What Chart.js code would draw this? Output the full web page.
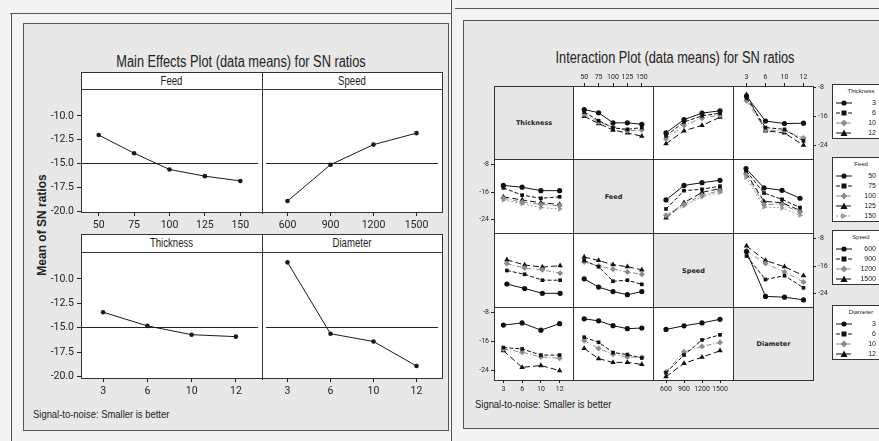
<!DOCTYPE html>
<html>
<head>
<meta charset="utf-8">
<script src="https://cdn.jsdelivr.net/npm/chart.js@4.4.1/dist/chart.umd.min.js"></script>
<style>
  body { margin: 0; background: #f3f3f3; }
  #page { position: relative; width: 879px; height: 441px; overflow: hidden; color: #222;
    font-family: 'Liberation Sans', Arial, sans-serif; }
  #page div, #page canvas, #page svg { position: absolute; box-sizing: border-box; }
  .panel { background: #e8e8e8; border: 1px solid #555; }
  .box { background: #fff; border: 1px solid #333; }
  .txt { white-space: nowrap; line-height: 1; }
  .narrow { transform: scaleX(0.8); transform-origin: center; }
  .narrowL { transform: scaleX(0.82); transform-origin: left center; }
  .diag { background: #e6e6e6; border: 1px solid #333; display: flex; align-items: center; justify-content: center;
    font: bold 6.5px 'DejaVu Sans', sans-serif; }
  .line { background: #555; }
</style>
</head>
<body>
<div id="page"></div>
<script>
// levels of each factor
const feedLevels = ['50', '75', '100', '125', '150'];
const speedLevels = ['600', '900', '1200', '1500'];
const thickLevels = ['3', '6', '10', '12'];
const diamLevels = ['3', '6', '10', '12'];

// main effects: mean of SN ratios
const meFeed = [-12.0, -13.9, -15.6, -16.3, -16.8];
const meSpeed = [-18.9, -15.1, -13.0, -11.8];
const meThick = [-13.4, -14.8, -15.7, -15.9];
const meDiam = [-8.3, -15.6, -16.4, -18.9];
const grandMean = -14.95;
const meTicks = [-10, -12.5, -15, -17.5, -20];

// interaction plot: one row per level of the trace factor
const thickVsFeed = [[-14.1, -15.0, -17.8, -17.8, -18.2], [-14.8, -17.2, -19.2, -19.6, -19.1], [-15.4, -17.6, -18.9, -20.0, -19.8], [-16.0, -18.0, -19.8, -20.6, -21.5]];
const thickVsSpeed = [[-20.2, -16.3, -14.4, -13.7], [-21.1, -17.0, -15.2, -14.4], [-22.0, -18.0, -15.9, -15.0], [-23.4, -19.6, -18.0, -15.6]];
const thickVsDiam = [[-10.4, -17.3, -18.0, -17.9], [-10.9, -19.1, -19.6, -22.8], [-11.7, -19.8, -20.0, -22.0], [-10.0, -20.0, -20.6, -24.0]];

const feedVsThick = [[-14.1, -14.6, -15.6, -15.6], [-14.8, -16.9, -17.8, -17.4], [-17.8, -18.9, -19.6, -20.0], [-17.4, -18.3, -19.1, -19.6], [-18.3, -19.4, -20.5, -20.9]];
const feedVsSpeed = [[-18.3, -14.1, -13.3, -12.6], [-20.9, -15.6, -15.2, -14.3], [-22.7, -19.6, -16.9, -15.6], [-23.5, -19.1, -16.1, -15.0], [-23.1, -20.0, -17.4, -16.1]];
const feedVsDiam = [[-9.2, -14.8, -15.5, -17.8], [-9.8, -16.3, -18.1, -20.5], [-10.8, -19.6, -19.6, -21.8], [-10.4, -18.7, -19.1, -21.3], [-11.7, -20.3, -20.6, -22.7]];

const speedVsThick = [[-21.2, -22.5, -23.9, -23.9], [-17.3, -18.4, -20.1, -20.1], [-15.3, -16.6, -17.1, -18.1], [-14.2, -15.7, -16.3, -15.9]];
const speedVsFeed = [[-19.7, -22.1, -23.4, -24.3, -23.4], [-14.4, -16.2, -20.4, -20.1, -21.3], [-14.8, -16.0, -16.9, -17.7, -18.4], [-13.4, -14.4, -15.6, -16.2, -17.1]];
const speedVsDiam = [[-11.8, -24.8, -25.0, -25.8], [-13.1, -19.9, -18.8, -22.3], [-11.6, -15.3, -17.7, -20.6], [-10.2, -14.4, -16.2, -18.8]];

const diamVsThick = [[-11.5, -10.9, -12.9, -11.1], [-17.7, -18.1, -19.8, -19.8], [-18.1, -19.0, -20.3, -20.7], [-18.6, -23.2, -22.7, -24.1]];
const diamVsFeed = [[-9.9, -10.5, -11.9, -12.8, -12.6], [-15.3, -16.8, -19.8, -20.4, -21.4], [-16.3, -18.6, -20.3, -21.1, -21.2], [-18.6, -21.6, -22.7, -22.7, -23.3]];
const diamVsSpeed = [[-12.7, -11.7, -10.9, -9.9], [-24.7, -19.8, -15.6, -14.2], [-24.4, -18.9, -17.4, -16.3], [-25.8, -22.1, -20.4, -18.6]];
const ixTicks = [-8, -16, -24];

const FONT = "Roboto, 'Liberation Sans', sans-serif";
const page = document.getElementById('page');

function div(x, y, w, h, cls, css, text) {
  const d = document.createElement('div');
  if (cls) d.className = cls;
  d.style.cssText = `left:${x}px;top:${y}px;` + (w != null ? `width:${w}px;` : '') + (h != null ? `height:${h}px;` : '') + (css || '');
  if (text != null) d.textContent = text;
  page.appendChild(d);
  return d;
}

// horizontal reference line (grand mean) across the plot area
Chart.register({
  id: 'refLine',
  beforeDatasetsDraw(chart, args, opts) {
    if (opts.value == null) return;
    const y = Math.round(chart.scales.y.getPixelForValue(opts.value)) + 0.5;
    const ctx = chart.ctx;
    ctx.save();
    ctx.strokeStyle = '#222';
    ctx.lineWidth = 1;
    ctx.beginPath();
    ctx.moveTo(chart.chartArea.left, y);
    ctx.lineTo(chart.chartArea.right, y);
    ctx.stroke();
    ctx.restore();
  }
});

// one small chart; x,y,w,h is the plot area, axes are added outside it
function plot(c) {
  const padL = c.yPos === 'left' ? c.axisW : 0;
  const padR = c.yPos === 'right' ? c.axisW : 0;
  const padT = c.xPos === 'top' ? c.axisH : 0;
  const padB = c.xPos === 'bottom' ? c.axisH : 0;
  const W = c.w + padL + padR, H = c.h + padT + padB;
  const cv = document.createElement('canvas');
  cv.width = W; cv.height = H;
  cv.style.cssText = `left:${c.x - padL}px;top:${c.y - padT}px;width:${W}px;height:${H}px;`;
  page.appendChild(cv);
  const tickFont = { family: FONT, size: c.font };
  new Chart(cv, {
    type: 'line',
    data: { labels: c.labels, datasets: c.datasets },
    options: {
      responsive: false,
      animation: false,
      events: [],
      layout: { padding: 0 },
      plugins: { legend: { display: false }, tooltip: { enabled: false }, refLine: { value: c.ref } },
      scales: {
        x: {
          type: 'category', offset: true, display: !!c.xPos, position: c.xPos || 'bottom',
          grid: { offset: false, drawOnChartArea: false, tickLength: c.tickLen, color: '#222' },
          border: { display: false },
          ticks: { font: tickFont, color: '#222', padding: c.pad, maxRotation: 0, autoSkip: false },
          afterFit: s => { if (c.xPos) s.height = c.axisH; s.paddingLeft = 0; s.paddingRight = 0; }
        },
        y: {
          display: !!c.yPos, position: c.yPos || 'left', min: c.yMin, max: c.yMax,
          grid: { drawOnChartArea: false, tickLength: c.tickLen, color: '#222' },
          border: { display: false },
          ticks: { font: tickFont, color: '#222', padding: c.pad, callback: c.yFmt || (v => String(v)) },
          afterBuildTicks: s => { s.ticks = c.yTicks.map(v => ({ value: v })); },
          afterFit: s => { if (c.yPos) s.width = c.axisW; s.paddingTop = 0; s.paddingBottom = 0; }
        }
      }
    }
  });
}

// ---------- frames ----------
div(10, 13, 441, 1, 'line');
div(11, 13, 1, 428, 'line');
div(451, 0, 1, 441, 'line');
div(23, 23, 426, 408, 'panel');
div(455, 8, 424, 1, 'line');
div(463, 20, 430, 409, 'panel');

// ---------- main effects ----------
div(41, 54, 400, 20, 'txt narrow', 'text-align:center;font-size:16px;', 'Main Effects Plot (data means) for SN ratios');
div(42, 225, null, null, 'txt', "transform:translate(-50%,-50%) rotate(-90deg);font-weight:bold;font-size:12px;", 'Mean of SN ratios');
div(33, 409, null, null, 'txt narrowL', 'font-size:11.5px;', 'Signal-to-noise: Smaller is better');

const meLine = vals => ({ data: vals, borderColor: '#1a1a1a', backgroundColor: '#1a1a1a', borderWidth: 1,
  pointRadius: 2.3, pointBorderWidth: 0, tension: 0 });

const meRows = [
  { hy: 72, hh: 18, py: 89, ph: 124, yMin: -20.05, yMax: -7.6, panels: [['Feed', feedLevels, meFeed], ['Speed', speedLevels, meSpeed]] },
  { hy: 234, hh: 19, py: 252, ph: 127, yMin: -20.13, yMax: -7.65, panels: [['Thickness', thickLevels, meThick], ['Diameter', diamLevels, meDiam]] }
];
meRows.forEach(row => {
  div(81, row.hy, 362, row.hh, 'box');
  div(81, row.py, 362, row.ph, 'box');
  div(262, row.hy, 1, row.hh + row.ph, 'line', 'background:#333;');
  row.panels.forEach((p, i) => {
    const x = i === 0 ? 81 : 262, w = i === 0 ? 181 : 180;
    div(x, row.hy, w, row.hh, 'txt narrow', `text-align:center;font-size:12px;line-height:${row.hh}px;`, p[0]);
    plot({
      x: x, y: row.py, w: w, h: row.ph - 1, labels: p[1], datasets: [meLine(p[2])],
      yMin: row.yMin, yMax: row.yMax, yTicks: meTicks, yFmt: v => v.toFixed(1),
      xPos: 'bottom', yPos: i === 0 ? 'left' : null, axisW: 44, axisH: 24, tickLen: 4, pad: 3, font: 10.5,
      ref: grandMean
    });
  });
});

// ---------- interaction plot ----------
div(475, 50, 400, 20, 'txt narrow', 'text-align:center;font-size:16px;', 'Interaction Plot (data means) for SN ratios');
div(475, 399, null, null, 'txt narrowL', 'font-size:11.5px;', 'Signal-to-noise: Smaller is better');

const traceStyles = [
  { color: '#111', dash: [], point: 'circle', r: 2.6 },
  { color: '#111', dash: [4, 2], point: 'rect', r: 2.6 },
  { color: '#8c8c8c', dash: [5, 2, 1, 2], point: 'rectRot', r: 3 },
  { color: '#111', dash: [6, 3], point: 'triangle', r: 3.2 },
  { color: '#9a9a9a', dash: [2, 2], point: 'triangle', r: 3.2, rot: 90 }
];
const traces = rows => rows.map((vals, i) => {
  const s = traceStyles[i];
  return { data: vals, borderColor: s.color, backgroundColor: s.color, borderWidth: 1, borderDash: s.dash,
    pointStyle: s.point, pointRotation: s.rot || 0, pointRadius: s.r, pointBorderWidth: 0, tension: 0 };
});

const varNames = ['Thickness', 'Feed', 'Speed', 'Diameter'];
const varLevels = [thickLevels, feedLevels, speedLevels, diamLevels];
const matrix = [
  [null, thickVsFeed, thickVsSpeed, thickVsDiam],
  [feedVsThick, null, feedVsSpeed, feedVsDiam],
  [speedVsThick, speedVsFeed, null, speedVsDiam],
  [diamVsThick, diamVsFeed, diamVsSpeed, null]
];
const colX = [494, 573, 653, 733, 813];
const rowY = [86, 159, 233, 307, 380];

for (let r = 0; r < 4; r++) {
  for (let c = 0; c < 4; c++) {
    const x = colX[c], y = rowY[r], w = colX[c + 1] - x, h = rowY[r + 1] - y;
    if (r === c) {
      div(x, y, w + 1, h + 1, 'diag', '', varNames[r]);
      continue;
    }
    div(x, y, w + 1, h + 1, 'box');
    let xPos = null, yPos = null;
    if (r === 0 && (c === 1 || c === 3)) xPos = 'top';
    if (r === 3 && (c === 0 || c === 2)) xPos = 'bottom';
    if (c === 0 && (r === 1 || r === 3)) yPos = 'left';
    if (c === 3 && (r === 0 || r === 2)) yPos = 'right';
    plot({
      x: x, y: y, w: w, h: h, labels: varLevels[c], datasets: traces(matrix[r][c]),
      yMin: -26.7, yMax: -7.6, yTicks: ixTicks,
      xPos: xPos, yPos: yPos, axisW: 20, axisH: 14, tickLen: 3, pad: 2, font: 7
    });
  }
}

// ---------- legends ----------
function markerSvg(s, top) {
  const dash = s.dash.length ? `stroke-dasharray="${s.dash.join(',')}"` : '';
  let m;
  if (s.point === 'circle') m = `<circle cx="8" cy="4" r="2.6" fill="${s.color}"/>`;
  else if (s.point === 'rect') m = `<rect x="5.5" y="1.5" width="5" height="5" fill="${s.color}"/>`;
  else if (s.point === 'rectRot') m = `<polygon points="8,0.6 11.4,4 8,7.4 4.6,4" fill="${s.color}"/>`;
  else if (s.rot) m = `<polygon points="5,1 11.5,4 5,7" fill="${s.color}"/>`;
  else m = `<polygon points="8,0.6 11.5,7 4.5,7" fill="${s.color}"/>`;
  return `<svg width="16" height="8" style="left:3px;top:${top - 4}px;">` +
    `<line x1="0" y1="4" x2="16" y2="4" stroke="${s.color}" stroke-width="1" ${dash}/>${m}</svg>`;
}
const legendTops = [84, 157, 230, 305];
varNames.forEach((name, i) => {
  const lv = varLevels[i];
  const h = 18 + (lv.length - 1) * 10 + 7;
  const box = div(832, legendTops[i], 52, h, 'box');
  let html = `<div class="txt" style="left:10px;top:3px;width:36px;text-align:center;font-size:6px;">${name}</div>`;
  lv.forEach((v, k) => {
    const cy = 18 + k * 10;
    html += markerSvg(traceStyles[k], cy);
    html += `<div class="txt" style="left:22px;top:${cy - 4}px;width:21px;text-align:right;font-size:7px;">${v}</div>`;
  });
  box.innerHTML = html;
});
</script>
</body>
</html>
